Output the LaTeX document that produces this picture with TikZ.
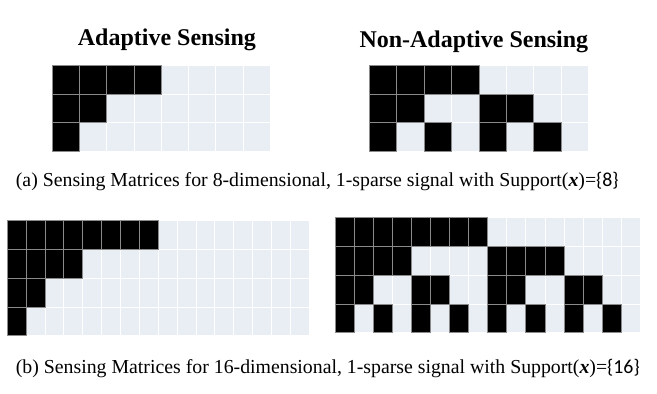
\documentclass[tikz,border=0pt]{standalone}
\usepackage{fontspec}
\setmainfont{Liberation Serif}
\newfontfamily\capsans{Carlito}
\definecolor{cellbg}{HTML}{E9EDF4}
\definecolor{cellgray}{HTML}{8A8A8A}
\tikzset{
  lightcell/.style={fill=cellbg,draw=white,line width=0.9pt},
  darkcell/.style={fill=black,draw=cellgray,line width=0.9pt},
  titletext/.style={font=\fontsize{24}{28}\selectfont\bfseries,anchor=base west,inner sep=0pt},
  captext/.style={font=\fontsize{19.8}{23}\selectfont,anchor=base west,inner sep=0pt}
}
% #1 x0, #2 y0, #3 w, #4 h, #5 cols, #6 rows, #7 mode (0 adaptive, 1 non-adaptive)
\newcommand\drawgrid[7]{%
  \pgfmathtruncatemacro\gmaxc{#5-1}%
  \pgfmathtruncatemacro\gmaxr{#6-1}%
  \foreach \r in {0,...,\gmaxr}{
    \foreach \c in {0,...,\gmaxc}{
      \path[lightcell] ({#1+\c*#3},{#2+\r*#4}) rectangle ++(#3,#4);
    }
  }
  \foreach \r in {0,...,\gmaxr}{
    \foreach \c in {0,...,\gmaxc}{
      \pgfmathtruncatemacro\gp{2^(#6-1-\r)}
      \ifnum#7=0
        \pgfmathtruncatemacro\gb{\c<\gp ? 1 : 0}
      \else
        \pgfmathtruncatemacro\gb{mod(floor(\c/\gp),2)==0 ? 1 : 0}
      \fi
      \ifnum\gb=1
        \path[darkcell] ({#1+\c*#3},{#2+\r*#4}) rectangle ++(#3,#4);
      \fi
    }
  }
}
\begin{document}
\begin{tikzpicture}[x=1pt,y=-1pt]
\useasboundingbox (0,0) rectangle (657,394);
\node[titletext] (t1) at (77.7,45.5) {Adaptive Sensing};
\node[titletext] (t2) at (359.3,47.3) {Non-Adaptive Sensing};
\drawgrid{52.3}{65.7}{27.25}{28.45}{8}{3}{0}
\drawgrid{369.3}{65.7}{27.42}{28.45}{8}{3}{1}
\node[captext] (ca) at (15.7,186.5) {(a) Sensing Matrices for 8-dimensional, 1-sparse signal with Support(\textbf{\textit{x}})=\capsans\{8\}};
\drawgrid{7.3}{220.7}{18.875}{28.75}{16}{4}{0}
\drawgrid{335.3}{217.7}{19.06}{28.75}{16}{4}{1}
\node[captext] (cb) at (15.7,373.3) {(b) Sensing Matrices for 16-dimensional, 1-sparse signal with Support(\textbf{\textit{x}})=\capsans\{16\}};
\end{tikzpicture}
\end{document}
